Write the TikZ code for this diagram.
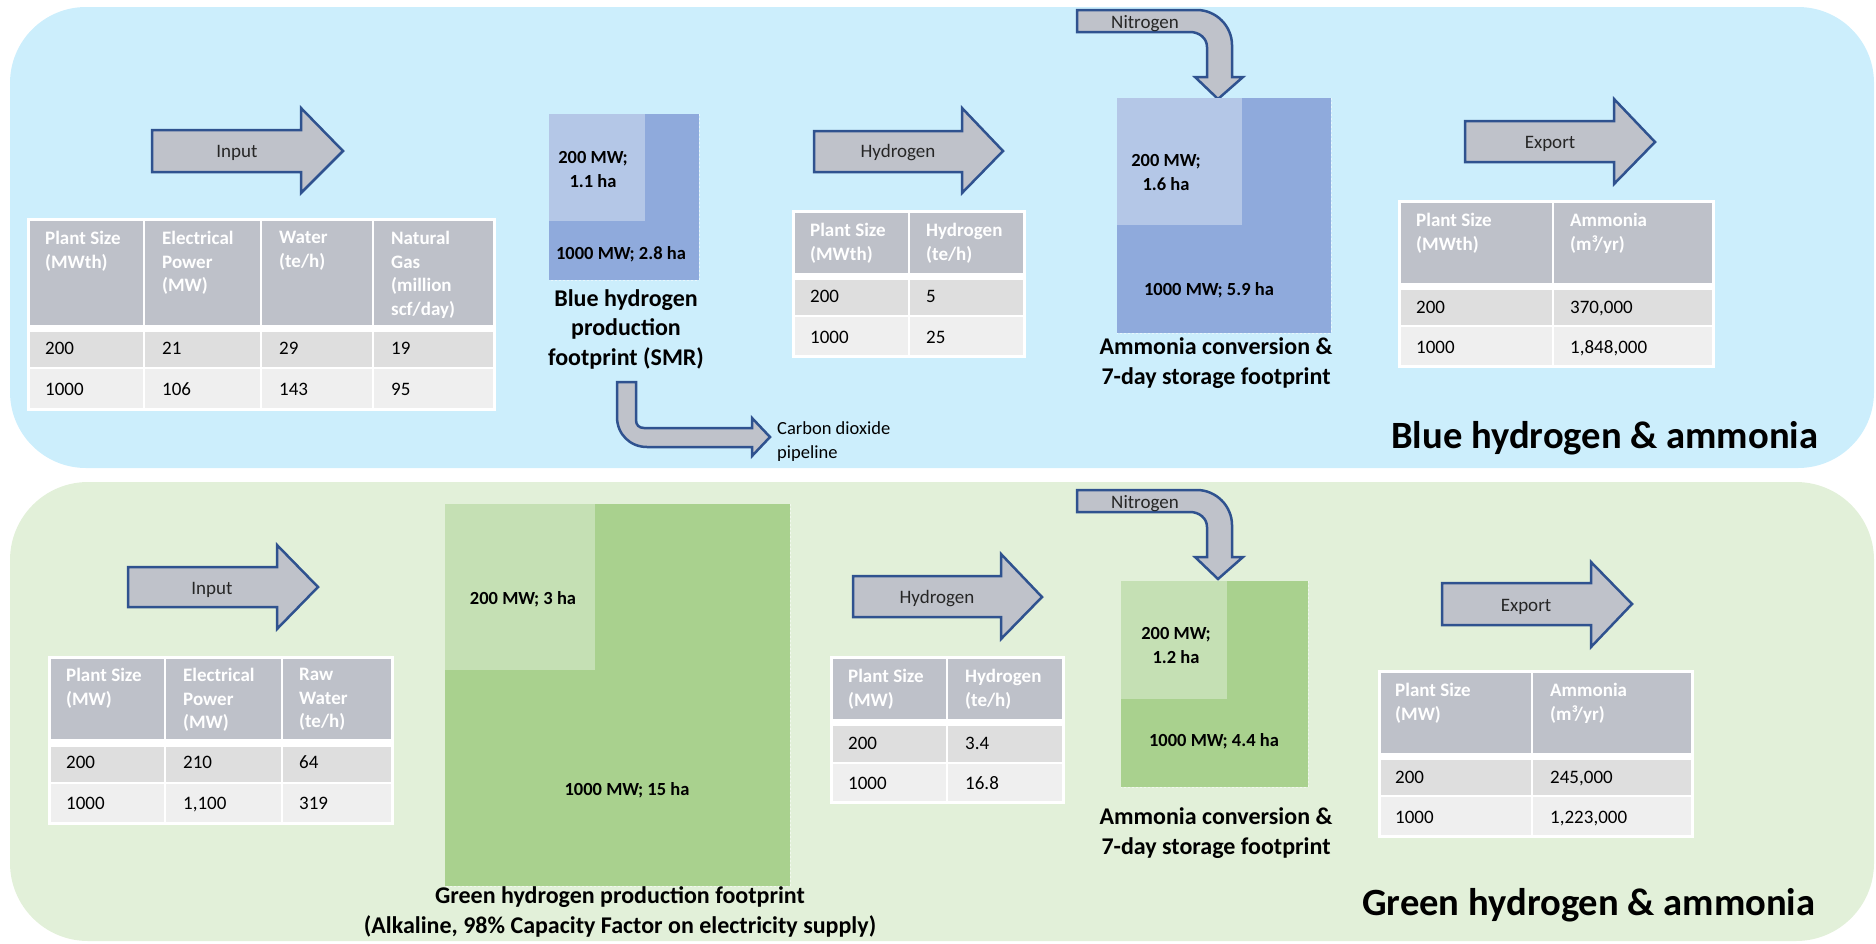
\documentclass[tikz,border=0pt]{standalone}
\usepackage{fontspec}
\setmainfont{Carlito}
\definecolor{bluebg}{RGB}{204,238,252}
\definecolor{greenbg}{RGB}{226,240,217}
\definecolor{arrfill}{RGB}{191,194,202}
\definecolor{arredge}{RGB}{47,82,143}
\definecolor{hdr}{RGB}{190,193,201}
\definecolor{rowa}{RGB}{222,222,222}
\definecolor{rowb}{RGB}{239,239,239}
\definecolor{bsqout}{RGB}{143,170,220}
\definecolor{bsqin}{RGB}{180,199,231}
\definecolor{gsqout}{RGB}{169,209,142}
\definecolor{gsqin}{RGB}{197,224,180}
\begin{document}
\begin{tikzpicture}[x=1pt,y=-1pt,
  blk/.style={fill=arrfill,draw=arredge,line width=2.5pt,line join=miter},
  hdrtxt/.style={anchor=north west,inner sep=0pt,align=left,text=white,font=\fontsize{19}{23.5}\selectfont\bfseries},
  celltxt/.style={anchor=base west,inner sep=0pt,font=\fontsize{19}{23}\selectfont},
  arrlbl/.style={anchor=base,inner sep=0pt,text=black!85,font=\fontsize{19}{23}\selectfont},
  sqlbl/.style={inner sep=0pt,align=center,font=\fontsize{18.5}{24}\selectfont\bfseries},
  captxt/.style={inner sep=0pt,align=center,font=\fontsize{24}{29.5}\selectfont\bfseries},
  ttl/.style={anchor=base west,inner sep=0pt,font=\fontsize{38.6}{44}\selectfont\bfseries},
  edgedots/.style={white,opacity=.55,line width=0.8pt,dash pattern=on 2pt off 2pt}]
\useasboundingbox (0,0) rectangle (1876,943);

% ---------- panels ----------
\fill[bluebg,rounded corners=76pt] (10,7) rectangle (1874,468);
\fill[greenbg,rounded corners=78pt] (10,482) rectangle (1874,941);

% ================= BLUE =================
% Input arrow
\draw[blk] (152,130) -- (301,130) -- (301,108) -- (343,151) -- (301,193) -- (301,172) -- (152,172) -- cycle;
\node[arrlbl] (bInput) at (237,157) {Input};

% Input table
\fill[white] (27,218) rectangle (496,411);
\foreach \a/\b in {30/143,145/260,262/372,374/493}{
  \fill[hdr] (\a,221) rectangle (\b,325);
  \fill[rowa] (\a,332) rectangle (\b,367);
  \fill[rowb] (\a,369) rectangle (\b,408);}
\node[hdrtxt] (t1h1) at (45,231) {Plant Size\\(MWth)};
\node[hdrtxt] (t1h2) at (162,231) {Electrical\\Power\\(MW)};
\node[hdrtxt] (t1h3) at (279,231) {Water\\(te/h)};
\node[hdrtxt] (t1h4) at (391,231) {Natural\\Gas\\(million\\scf/day)};
\node[celltxt] (t1a1) at (45,354) {200};
\node[celltxt] (t1a2) at (162,354) {21};
\node[celltxt] (t1a3) at (279,354) {29};
\node[celltxt] (t1a4) at (391,354) {19};
\node[celltxt] (t1b1) at (45,395) {1000};
\node[celltxt] (t1b2) at (162,395) {106};
\node[celltxt] (t1b3) at (279,395) {143};
\node[celltxt] (t1b4) at (391,395) {95};

% SMR footprint
\fill[bsqout] (549,114) rectangle (699,280);
\fill[bsqin] (549,114) rectangle (645,221);
\draw[edgedots] (699,114) -- (699,280) -- (549,280);
\node[sqlbl] (smrS) at (593,169) {200 MW;\\1.1 ha};
\node[sqlbl] (smrL) at (621,254) {1000 MW; 2.8 ha};
\node[captxt] (smrCap) at (626,329) {Blue hydrogen\\production\\footprint (SMR)};

% CO2 arrow
\draw[blk] (617,382) -- (636,382) -- (636,420) .. controls (636,425) and (639,428) .. (644,428)
  -- (752,428) -- (752,418) -- (770,437) -- (752,456) -- (752,447) -- (647,447)
  .. controls (630,447) and (617,434) .. (617,417) -- cycle;
\node[anchor=north west,inner sep=0pt,align=left,font=\fontsize{18.5}{24}\selectfont] (co2) at (777,421) {Carbon dioxide\\pipeline};

% Hydrogen arrow
\draw[blk] (814,131) -- (962,131) -- (962,108) -- (1003,151) -- (962,193) -- (962,172) -- (814,172) -- cycle;
\node[arrlbl] (bHyd) at (898,157) {Hydrogen};

% Hydrogen table
\fill[white] (792,210) rectangle (1026,358);
\foreach \a/\b in {795/908,910/1023}{
  \fill[hdr] (\a,213) rectangle (\b,273);
  \fill[rowa] (\a,280) rectangle (\b,315);
  \fill[rowb] (\a,317) rectangle (\b,355);}
\node[hdrtxt] (t2h1) at (810,223) {Plant Size\\(MWth)};
\node[hdrtxt] (t2h2) at (926,223) {Hydrogen\\(te/h)};
\node[celltxt] (t2a1) at (810,302) {200};
\node[celltxt] (t2a2) at (926,302) {5};
\node[celltxt] (t2b1) at (810,343) {1000};
\node[celltxt] (t2b2) at (926,343) {25};

% Nitrogen arrow (blue)
\draw[blk] (1077,10) -- (1197,10) .. controls (1216,10) and (1232,26) .. (1232,45) -- (1232,77)
  -- (1243,77) -- (1218,99) -- (1195,77) -- (1207,77) -- (1207,47)
  .. controls (1207,38) and (1199,32) .. (1190,32) -- (1077,32) -- cycle;
\node[arrlbl] (bNit) at (1145,28) {Nitrogen};

% Ammonia footprint (blue)
\fill[bsqout] (1117,98) rectangle (1331,333);
\fill[bsqin] (1117,98) rectangle (1242,225);
\draw[edgedots] (1331,98) -- (1331,333) -- (1117,333);
\node[sqlbl] (bamS) at (1166,172) {200 MW;\\1.6 ha};
\node[sqlbl] (bamL) at (1209,290) {1000 MW; 5.9 ha};
\node[captxt] (bamCap) at (1216,363) {Ammonia conversion \&\\7-day storage footprint};

% Export arrow (blue)
\draw[blk] (1465,121) -- (1614,121) -- (1614,99) -- (1655,142) -- (1614,184) -- (1614,162) -- (1465,162) -- cycle;
\node[arrlbl] (bExp) at (1550,148) {Export};

% Ammonia table (blue)
\fill[white] (1398,200) rectangle (1715,368);
\foreach \a/\b in {1401/1552,1554/1712}{
  \fill[hdr] (\a,203) rectangle (\b,283);
  \fill[rowa] (\a,290) rectangle (\b,325);
  \fill[rowb] (\a,327) rectangle (\b,365);}
\node[hdrtxt] (t3h1) at (1416,213) {Plant Size\\(MWth)};
\node[hdrtxt] (t3h2) at (1570,213) {Ammonia\\(m³/yr)};
\node[celltxt] (t3a1) at (1416,313) {200};
\node[celltxt] (t3a2) at (1570,313) {370,000};
\node[celltxt] (t3b1) at (1416,353) {1000};
\node[celltxt] (t3b2) at (1570,353) {1,848,000};

\node[ttl] (titleB) at (1391,448) {Blue hydrogen \& ammonia};

% ================= GREEN =================
% Input arrow
\draw[blk] (128,567) -- (277,567) -- (277,545) -- (318,587) -- (277,629) -- (277,607) -- (128,607) -- cycle;
\node[arrlbl] (gInput) at (212,594) {Input};

% Input table
\fill[white] (48,656) rectangle (394,825);
\foreach \a/\b in {51/164,166/281,283/391}{
  \fill[hdr] (\a,659) rectangle (\b,739);
  \fill[rowa] (\a,747) rectangle (\b,782);
  \fill[rowb] (\a,784) rectangle (\b,822);}
\node[hdrtxt] (t4h1) at (66,668) {Plant Size\\(MW)};
\node[hdrtxt] (t4h2) at (183,668) {Electrical\\Power\\(MW)};
\node[hdrtxt] (t4h3) at (299,668) {Raw\\Water\\(te/h)};
\node[celltxt] (t4a1) at (66,768) {200};
\node[celltxt] (t4a2) at (183,768) {210};
\node[celltxt] (t4a3) at (299,768) {64};
\node[celltxt] (t4b1) at (66,809) {1000};
\node[celltxt] (t4b2) at (183,809) {1,100};
\node[celltxt] (t4b3) at (299,809) {319};

% Green production footprint
\fill[gsqout] (445,504) rectangle (790,886);
\fill[gsqin] (445,504) rectangle (595,670);
\draw[edgedots] (790,504) -- (790,886) -- (445,886);
\node[sqlbl] (gpS) at (523,599) {200 MW; 3 ha};
\node[sqlbl] (gpL) at (627,790) {1000 MW; 15 ha};
\node[captxt] (gpCap) at (620,912) {Green hydrogen production footprint\\(Alkaline, 98\% Capacity Factor on electricity supply)};

% Hydrogen arrow (green)
\draw[blk] (853,576) -- (1001,576) -- (1001,554) -- (1042,597) -- (1001,639) -- (1001,617) -- (853,617) -- cycle;
\node[arrlbl] (gHyd) at (937,603) {Hydrogen};

% Hydrogen table (green)
\fill[white] (830,656) rectangle (1065,804);
\foreach \a/\b in {833/946,948/1062}{
  \fill[hdr] (\a,659) rectangle (\b,719);
  \fill[rowa] (\a,726) rectangle (\b,762);
  \fill[rowb] (\a,764) rectangle (\b,801);}
\node[hdrtxt] (t5h1) at (848,669) {Plant Size\\(MW)};
\node[hdrtxt] (t5h2) at (965,669) {Hydrogen\\(te/h)};
\node[celltxt] (t5a1) at (848,749) {200};
\node[celltxt] (t5a2) at (965,749) {3.4};
\node[celltxt] (t5b1) at (848,789) {1000};
\node[celltxt] (t5b2) at (965,789) {16.8};

% Nitrogen arrow (green)
\draw[blk] (1077,490) -- (1197,490) .. controls (1216,490) and (1232,506) .. (1232,525) -- (1232,557)
  -- (1243,557) -- (1218,579) -- (1195,557) -- (1207,557) -- (1207,527)
  .. controls (1207,518) and (1199,512) .. (1190,512) -- (1077,512) -- cycle;
\node[arrlbl] (gNit) at (1145,508) {Nitrogen};

% Ammonia footprint (green)
\fill[gsqout] (1121,581) rectangle (1308,787);
\fill[gsqin] (1121,581) rectangle (1227,699);
\draw[edgedots] (1308,581) -- (1308,787) -- (1121,787);
\node[sqlbl] (gamS) at (1176,645) {200 MW;\\1.2 ha};
\node[sqlbl] (gamL) at (1214,741) {1000 MW; 4.4 ha};
\node[captxt] (gamCap) at (1216,833) {Ammonia conversion \&\\7-day storage footprint};

% Export arrow (green)
\draw[blk] (1442,583) -- (1591,583) -- (1591,562) -- (1632,604) -- (1591,647) -- (1591,625) -- (1442,625) -- cycle;
\node[arrlbl] (gExp) at (1526,611) {Export};

% Ammonia table (green)
\fill[white] (1378,670) rectangle (1694,838);
\foreach \a/\b in {1381/1531,1533/1691}{
  \fill[hdr] (\a,673) rectangle (\b,753);
  \fill[rowa] (\a,760) rectangle (\b,795);
  \fill[rowb] (\a,797) rectangle (\b,835);}
\node[hdrtxt] (t6h1) at (1395,683) {Plant Size\\(MW)};
\node[hdrtxt] (t6h2) at (1550,683) {Ammonia\\(m³/yr)};
\node[celltxt] (t6a1) at (1395,783) {200};
\node[celltxt] (t6a2) at (1550,783) {245,000};
\node[celltxt] (t6b1) at (1395,823) {1000};
\node[celltxt] (t6b2) at (1550,823) {1,223,000};

\node[ttl] (titleG) at (1362,915) {Green hydrogen \& ammonia};
\end{tikzpicture}
\end{document}
